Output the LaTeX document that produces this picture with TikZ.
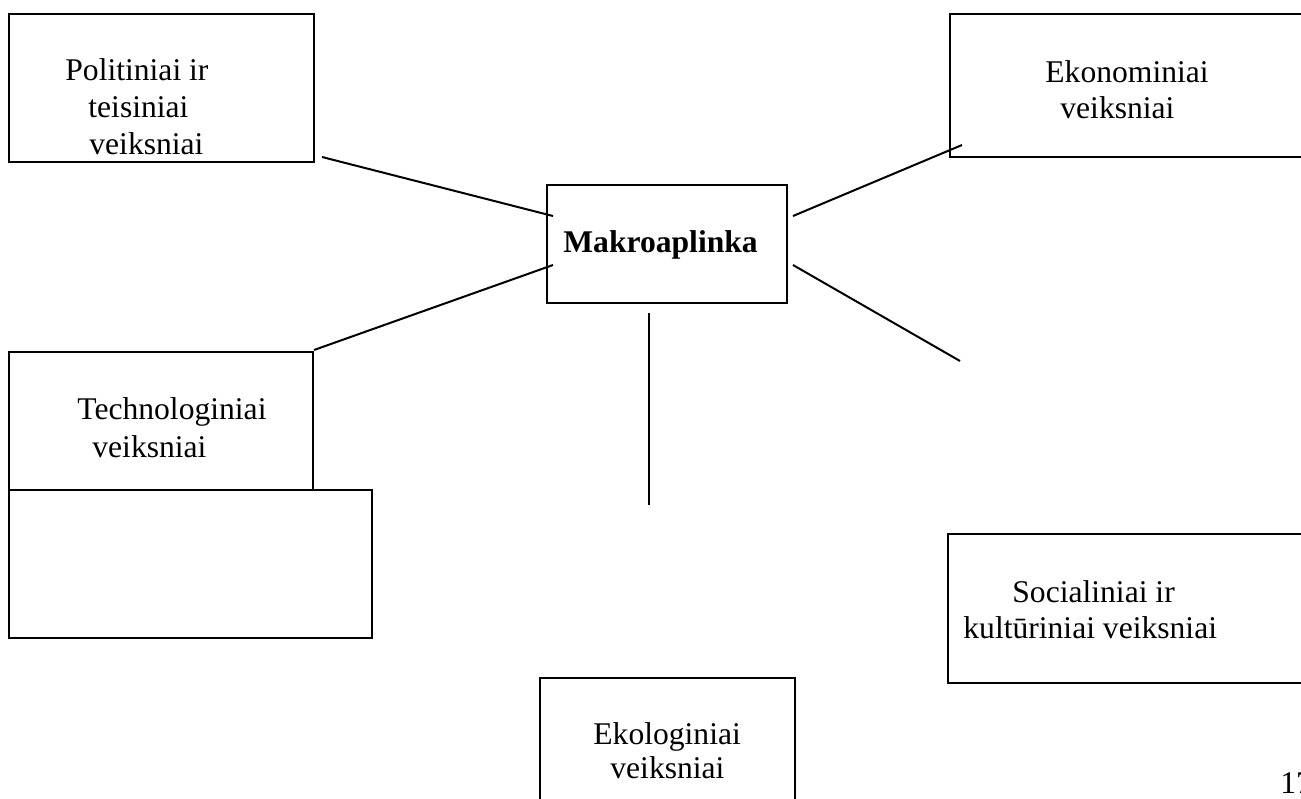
\documentclass[tikz,border=0pt]{standalone}
\usepackage{fontspec}
\setmainfont{Liberation Serif}
\begin{document}
\begin{tikzpicture}[x=0.5pt,y=-0.5pt,
  box/.style={draw,rectangle,line width=1.2pt,inner sep=0pt},
  lbl/.style={anchor=base west,inner sep=0pt,font=\fontsize{15.8pt}{18.5pt}\selectfont},
  conn/.style={line width=1pt}]
\useasboundingbox (0,0) rectangle (1301,798);
% boxes
\node[box,minimum width=152.5pt,minimum height=74pt] (pol) at (161.5,88) {};
\node[box,minimum width=180pt,minimum height=71.5pt] (eko) at (1130,85.5) {};
\node[box,minimum width=120pt,minimum height=59pt] (mak) at (667,244) {};
\node[box,minimum width=152pt,minimum height=69pt] (tech) at (161,421) {};
\node[box,minimum width=181.5pt,minimum height=74pt] (empty) at (190.5,564) {};
\node[box,minimum width=181pt,minimum height=74.5pt] (soc) at (1129,608.5) {};
\node[box,minimum width=127.5pt,minimum height=66pt] (ekol) at (667.5,744) {};
% texts
\node[lbl] (pol1) at (65,80) {Politiniai ir};
\node[lbl] (pol2) at (88,117) {teisiniai};
\node[lbl] (pol3) at (89,154) {veiksniai};
\node[lbl] (eko1) at (1045,82) {Ekonominiai};
\node[lbl] (eko2) at (1060,118) {veiksniai};
\node[lbl,font=\fontsize{15.8pt}{18.5pt}\selectfont\bfseries] (mak1) at (563,252) {Makroaplinka};
\node[lbl] (tech1) at (77,419) {Technologiniai};
\node[lbl] (tech2) at (92,457) {veiksniai};
\node[lbl] (soc1) at (1012,602) {Socialiniai ir};
\node[lbl] (soc2) at (963,638) {kultūriniai veiksniai};
\node[lbl] (ekol1) at (593,744) {Ekologiniai};
\node[lbl] (ekol2) at (610,778) {veiksniai};
\node[lbl] (page) at (1280,793) {17};
% connector ends
\coordinate (a1) at (322,157); \coordinate (a2) at (553,216);
\coordinate (b1) at (314,350); \coordinate (b2) at (553,265);
\coordinate (c1) at (793,216); \coordinate (c2) at (962,145);
\coordinate (d1) at (793,265); \coordinate (d2) at (960,361);
\coordinate (e1) at (649,313); \coordinate (e2) at (649,505);
\draw[conn] (a1) -- (a2);
\draw[conn] (b1) -- (b2);
\draw[conn] (c1) -- (c2);
\draw[conn] (d1) -- (d2);
\draw[conn] (e1) -- (e2);
\end{tikzpicture}
\end{document}
